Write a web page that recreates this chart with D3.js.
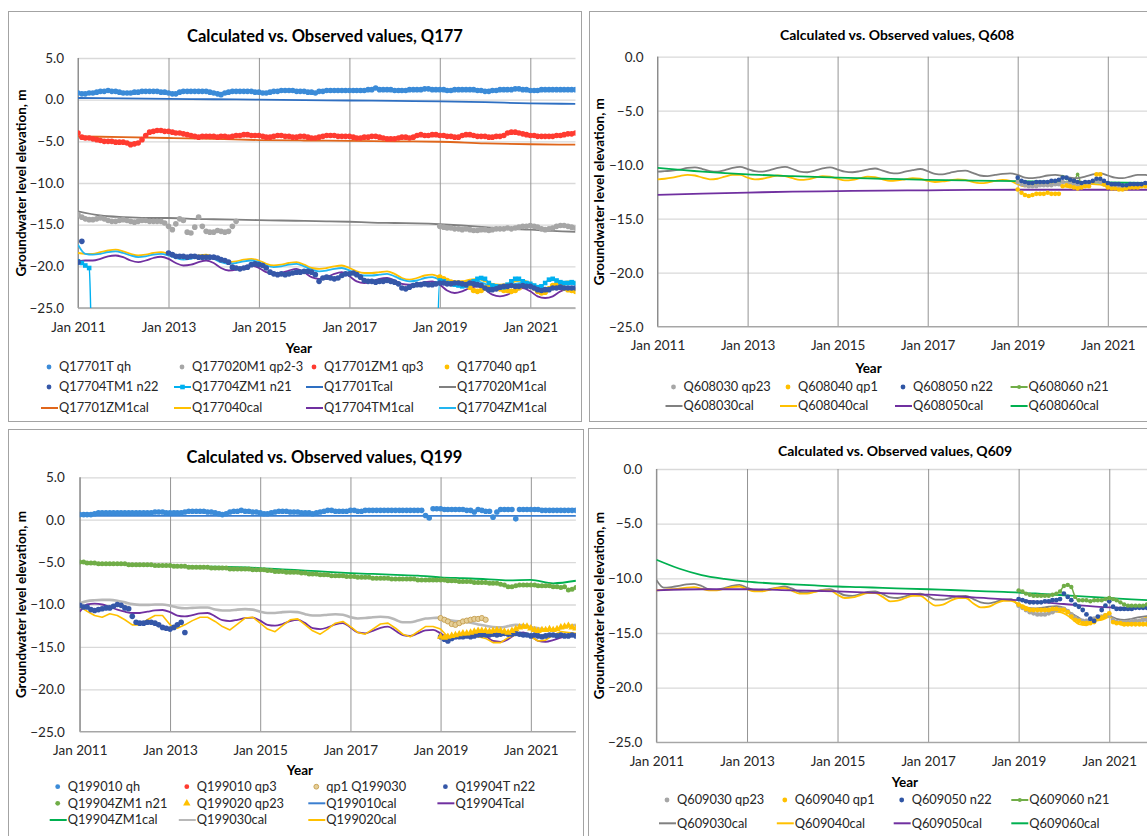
<!DOCTYPE html>
<html>
<head>
<meta charset="utf-8">
<script src="https://cdn.jsdelivr.net/npm/d3@7"></script>
<style>
body { margin: 0; background: #fff; }
</style>
</head>
<body>
<script>
// tick years shared by all four charts
var xTickYears = [2011, 2013, 2015, 2017, 2019, 2021];
var yTicksQ177 = [5, 0, -5, -10, -15, -20, -25];
var yTicksQ608 = [0, -5, -10, -15, -20, -25];

// ---------------- Q177 ----------------
// monthly values from Jan 2011
var q177_qh = [
    0.8, 0.7, 0.7, 0.8, 0.8, 0.9, 1.0, 1.0, 1.1, 1.0, 1.0, 0.9,
    0.8, 0.8, 0.8, 0.9, 0.9, 1.0, 1.0, 1.0, 1.0, 1.0, 0.9, 0.9,
    0.8, 0.7, 0.7, 0.9, 1.0, 1.0, 1.0, 1.0, 1.0, 1.0, 1.0, 0.9,
    0.8, 0.7, 0.6, 0.8, 0.9, 1.0, 1.0, 1.0, 1.0, 1.0, 1.0, 0.9,
    0.9, 0.8, 0.8, 0.9, 1.0, 1.0, 1.1, 1.1, 1.1, 1.1, 1.0, 1.0,
    1.0, 0.9, 0.9, 0.8, 1.0, 1.0, 1.1, 1.1, 1.1, 1.1, 1.1, 1.1,
    1.1, 1.1, 1.1, 1.1, 1.1, 1.2, 1.2, 1.4, 1.2, 1.2, 1.2, 1.2,
    1.1, 1.1, 1.1, 1.1, 1.2, 1.2, 1.2, 1.2, 1.3, 1.3, 1.2, 1.2,
    1.2, 1.2, 1.1, 1.1, 1.2, 1.2, 1.2, 1.2, 1.2, 1.2, 1.1, 1.1,
    1.0, 1.0, 1.1, 1.1, 1.2, 1.2, 1.2, 1.2, 1.3, 1.3, 1.2, 1.2,
    1.1, 1.1, 1.1, 1.2, 1.2, 1.2, 1.2, 1.2, 1.2, 1.2, 1.2, 1.2,
    1.2];
var q177_qp23a = [
    -13.8, -14.1, -14.3, -14.4, -14.4, -14.3, -14.2, -14.3, -14.5, -14.6, -14.6, -14.5,
    -14.4, -14.5, -14.6, -14.7, -14.6, -14.5, -14.5, -14.6, -14.6, -14.6, -14.6, -14.8,
    -15.2, -15.6, -14.9, -14.3, -14.5, -15.9, -16.0, -15.3, -14.1, -15.2, -15.8, -15.9,
    -15.9, -15.7, -15.8, -15.9, -15.8, -15.2, -14.6];
var q177_qp23b = [
    -15.2, -15.3, -15.4, -15.4, -15.5, -15.5, -15.6, -15.5, -15.6, -15.7, -15.7, -15.6,
    -15.6, -15.7, -15.6, -15.5, -15.5, -15.5, -15.4, -15.5, -15.4, -15.3, -15.2, -15.2,
    -15.1, -15.2, -15.3, -15.5, -15.6, -15.5, -15.4, -15.2, -15.1, -15.1, -15.2, -15.3,
    -15.4];
var q177_qp3 = [
    -4.0, -4.5, -4.6, -4.6, -4.7, -4.8, -4.9, -5.0, -5.0, -5.0, -5.1, -5.1,
    -5.1, -5.2, -5.4, -5.3, -5.2, -4.8, -4.3, -3.9, -3.8, -3.7, -3.7, -3.8,
    -3.8, -3.9, -4.0, -4.0, -4.1, -4.2, -4.3, -4.4, -4.5, -4.4, -4.4, -4.4,
    -4.4, -4.5, -4.4, -4.4, -4.5, -4.4, -4.3, -4.3, -4.2, -4.2, -4.3, -4.3,
    -4.3, -4.4, -4.5, -4.5, -4.4, -4.3, -4.3, -4.4, -4.4, -4.5, -4.5, -4.4,
    -4.4, -4.5, -4.6, -4.6, -4.5, -4.4, -4.3, -4.3, -4.3, -4.4, -4.4, -4.4,
    -4.4, -4.5, -4.6, -4.6, -4.5, -4.5, -4.4, -4.4, -4.5, -4.6, -4.7, -4.7,
    -4.7, -4.6, -4.5, -4.5, -4.6, -4.5, -4.3, -4.2, -4.3, -4.3, -4.2, -4.2,
    -4.3, -4.3, -4.4, -4.4, -4.5, -4.5, -4.3, -4.2, -4.2, -4.3, -4.4, -4.4,
    -4.4, -4.5, -4.5, -4.4, -4.4, -4.3, -4.0, -3.9, -3.9, -4.0, -4.1, -4.2,
    -4.3, -4.3, -4.4, -4.4, -4.4, -4.4, -4.4, -4.3, -4.3, -4.2, -4.1, -4.1,
    -4.0];
var q177_qp1 = [
    -21.3, -21.5, -21.7, -21.9, -22.0, -22.0, -22.0, -22.1, -22.5, -22.9, -23.0, -22.9,
    -22.6, -22.4, -22.4, -22.5, -22.7, -22.9, -22.9, -23.0, -22.9, -22.6, -22.3, -22.2,
    -22.3, -22.6, -23.0, -23.2, -23.1, -22.7, -22.3, -22.2, -22.3, -22.6, -22.8, -22.9,
    -23.0];
var q177_n22a = [-19.5, -17.0];
var q177_n22b = [
    -18.4, -18.6, -18.8, -18.8, -18.8, -18.9, -18.8, -18.8, -18.9, -18.9, -18.9, -18.9,
    -18.9, -19.0, -19.2, -19.3, -19.5, -20.1, -20.2, -20.3, -20.2, -20.1, -19.8, -19.7,
    -19.8, -19.9, -20.2, -20.7, -20.9, -21.0, -20.9, -21.0, -20.9, -20.8, -20.7, -20.7,
    -20.6, -20.6, -20.7, -21.0, -21.8, -21.4, -21.3, -21.4, -21.5, -21.4, -21.1, -20.9,
    -20.9, -20.8, -21.0, -21.3, -21.7, -21.8, -21.8, -21.9, -21.8, -21.8, -21.7, -21.8,
    -21.9, -22.1, -22.6, -22.7, -22.5, -22.3, -22.2, -22.2, -22.1, -22.2, -22.2, -22.1,
    -22.0, -22.0, -22.1, -22.1, -22.0, -22.0, -22.1, -22.2, -22.0, -22.1, -22.2, -22.3,
    -22.6, -22.8, -22.8, -22.7, -22.5, -22.4, -22.4, -22.3, -22.4, -22.4, -22.3, -22.4,
    -22.4, -22.6, -22.8, -22.9, -22.8, -22.8, -22.6, -22.6, -22.5, -22.6, -22.6, -22.6,
    -22.6];
// n21: first months of 2011, then an off-scale reading, resumes end of 2018
var q177_n21a = [-19.4, -19.6, -19.9, -20.2, -40];
var q177_n21b = [
    -40,
    -21.7, -21.8, -22.0, -22.1, -22.2, -22.3, -22.4, -22.3, -22.0, -21.8, -21.5, -21.4,
    -21.5, -22.0, -22.3, -22.4, -22.5, -22.5, -22.2, -21.8, -21.5, -21.5, -21.8, -22.0,
    -22.1, -22.3, -22.5, -22.4, -22.0, -21.6, -21.5, -21.7, -21.9, -22.0, -22.0, -21.9,
    -22.0];
// calculated, yearly / half-yearly / every two months
var q177_tcal = [0.2, 0.15, 0.1, 0.05, 0.0, -0.05, -0.1, -0.15, -0.2, -0.3, -0.45, -0.5];
var q177_23cal = [-13.4, -13.9, -14.1, -14.2, -14.2, -14.3, -14.35, -14.4, -14.45, -14.5, -14.55, -14.6,
    -14.65, -14.75, -14.8, -14.85, -14.95, -15.1, -15.3, -15.5, -15.6, -15.75, -15.85];
var q177_zcal = [-4.4, -4.5, -4.6, -4.7, -4.85, -4.9, -4.95, -5.0, -5.05, -5.25, -5.35, -5.4];
var q177_40cal = [
    -18.4, -18.5, -18.5, -18.3, -18.1, -18.0,
    -18.2, -18.5, -18.7, -18.6, -18.4, -18.3,
    -18.5, -18.8, -19.0, -18.9, -18.7, -18.6,
    -18.9, -19.3, -19.5, -19.4, -19.2, -19.1,
    -19.3, -19.7, -19.9, -19.8, -19.6, -19.5,
    -19.8, -20.2, -20.3, -20.2, -20.0, -19.9,
    -20.2, -20.6, -20.8, -20.8, -20.7, -20.6,
    -20.9, -21.4, -21.6, -21.4, -21.1, -21.0,
    -21.3, -21.7, -21.8, -21.8, -21.6, -21.5,
    -21.8, -22.1, -22.2, -22.1, -21.8, -21.7,
    -22.0, -22.4, -22.6, -22.4, -22.0, -21.8,
    -21.9];
var q177_tm1cal = [
    -19.4, -19.3, -19.3, -19.1, -18.8, -18.7,
    -18.9, -19.3, -19.5, -19.3, -19.0, -18.85,
    -19.1, -19.6, -19.9, -19.8, -19.5, -19.3,
    -19.6, -20.2, -20.5, -20.4, -20.1, -19.9,
    -20.2, -20.7, -20.9, -20.8, -20.5, -20.3,
    -20.7, -21.3, -21.5, -21.3, -20.9, -20.7,
    -21.2, -21.8, -22.0, -21.8, -21.5, -21.4,
    -21.7, -22.1, -22.2, -22.1, -21.9, -21.8,
    -22.2, -22.9, -23.2, -23.0, -22.6, -22.4,
    -22.8, -23.4, -23.6, -23.4, -22.9, -22.6,
    -23.0, -23.6, -23.8, -23.6, -23.0, -22.7,
    -22.6];
var q177_zm1cal = [
    -17.4, -18.5, -18.6, -18.5, -18.3, -18.2,
    -18.4, -18.7, -18.9, -18.8, -18.6, -18.5,
    -18.7, -19.0, -19.2, -19.1, -18.9, -18.8,
    -19.1, -19.5, -19.7, -19.6, -19.4, -19.3,
    -19.5, -19.9, -20.1, -20.0, -19.8, -19.7,
    -20.0, -20.4, -20.6, -20.5, -20.3, -20.2,
    -20.5, -20.9, -21.1, -21.1, -21.0, -20.9,
    -21.2, -21.6, -21.8, -21.7, -21.4, -21.3,
    -21.6, -22.0, -22.2, -22.1, -21.9, -21.8,
    -22.1, -22.4, -22.5, -22.4, -22.1, -22.0,
    -22.3, -22.6, -22.8, -22.6, -22.3, -22.1,
    -22.2];

// ---------------- Q608 ----------------
var q608_qp23 = [
    -11.6, -11.8, -11.9, -12.0, -12.0, -12.0, -11.9, -11.9, -11.9, -11.9, -11.8, -11.8,
    -11.6, -11.7, -11.7, -11.8, -11.8, -11.9, -11.9, -11.8, -11.6, -11.5, -11.6, -11.8,
    -11.9, -12.0, -12.0, -12.0, -12.0, -12.0, -11.9, -11.9, -11.9, -11.9, -11.8, -11.8,
    -11.8];
var q608_qp1 = [
    -12.3, -12.6, -12.8, -12.9, -12.8, -12.7, -12.7, -12.7, -12.6, -12.7, -12.7, -12.7,
    -12.0, -11.9, -12.0, -12.1, -12.2, -12.1, -12.0, -12.0, -11.6, -10.9, -10.9, -11.8,
    -12.1, -12.2, -12.2, -12.3, -12.3, -12.2, -12.1, -12.1, -12.1, -12.0, -12.0, -12.0,
    -12.0];
var q608_n22 = [
    -11.2, -11.5, -11.6, -11.7, -11.7, -11.6, -11.6, -11.6, -11.6, -11.5, -11.5, -11.4,
    -11.2, -11.2, -11.4, -11.5, -11.6, -11.7, -11.6, -11.6, -11.5, -11.3, -11.3, -11.5,
    -11.7, -11.8, -11.8, -11.8, -11.9, -11.9, -11.8, -11.8, -11.8, -11.8, -11.7, -11.7,
    -11.7];
var q608_n21 = [
    -11.3, -11.6, -11.7, -11.8, -11.8, -11.7, -11.7, -11.7, -11.7, -11.6, -11.6, -11.5,
    -11.1, -11.3, -11.5, -11.6, -10.9, -11.8, -11.7, -11.7, -11.6, -11.4, -11.4, -11.6,
    -11.8, -11.9, -11.9, -11.9, -12.0, -12.0, -11.9, -11.9, -11.9, -11.9, -11.8, -11.8,
    -11.8];
var q608_30cal = [
    -10.65, -10.6, -10.55, -10.45, -10.3, -10.25,
    -10.4, -10.6, -10.65, -10.5, -10.3, -10.2,
    -10.4, -10.6, -10.65, -10.5, -10.3, -10.2,
    -10.4, -10.65, -10.7, -10.55, -10.35, -10.25,
    -10.45, -10.65, -10.7, -10.6, -10.45, -10.35,
    -10.55, -10.75, -10.8, -10.65, -10.5, -10.4,
    -10.6, -10.85, -10.9, -10.75, -10.6, -10.55,
    -10.75, -11.0, -11.05, -10.95, -10.85, -10.8,
    -10.95, -11.2, -11.25, -11.15, -11.0, -10.95,
    -11.05, -11.2, -11.25, -11.1, -10.9, -10.8,
    -11.0, -11.2, -11.25, -11.1, -10.95, -10.95,
    -11.05];
var q608_40cal = [
    -11.35, -11.3, -11.2, -11.05, -10.95, -11.0,
    -11.2, -11.35, -11.3, -11.1, -10.95, -10.95,
    -11.2, -11.35, -11.3, -11.15, -11.0, -11.05,
    -11.25, -11.4, -11.35, -11.2, -11.05, -11.1,
    -11.3, -11.45, -11.4, -11.25, -11.1, -11.15,
    -11.35, -11.5, -11.45, -11.35, -11.25, -11.3,
    -11.5, -11.6, -11.55, -11.45, -11.35, -11.4,
    -11.6, -11.7, -11.65, -11.5, -11.4, -11.5,
    -11.8, -12.0, -11.95, -11.8, -11.7, -11.75,
    -11.95, -12.1, -12.05, -11.9, -11.8, -11.85,
    -12.05, -12.2, -12.15, -12.0, -11.9, -11.95,
    -12.1];
var q608_50cal = [-12.8, -12.68, -12.58, -12.5, -12.45, -12.4, -12.37, -12.34, -12.32, -12.32, -12.32, -12.32];
var q608_60cal = [-10.3, -10.65, -10.9, -11.05, -11.2, -11.3, -11.4, -11.47, -11.53, -11.6, -11.65, -11.7];

// ---------------- Q199 ----------------
var q199_qh = [
    0.6, 0.6, 0.6, 0.6, 0.7, 0.8, 0.8, 0.8, 0.8, 0.8, 0.8, 0.8,
    0.8, 0.8, 0.8, 0.8, 0.8, 0.8, 0.8, 0.8, 0.9, 0.9, 0.9, 0.8,
    0.8, 0.8, 0.8, 0.8, 0.9, 1.0, 1.0, 1.0, 1.0, 1.0, 0.9, 0.9,
    0.8, 0.7, 0.6, 0.7, 0.9, 1.0, 1.0, 1.1, 1.0, 1.0, 0.9, 0.9,
    0.8, 0.7, 0.7, 0.8, 0.9, 1.0, 1.0, 1.0, 0.9, 0.9, 0.9, 0.8,
    0.8, 0.8, 0.7, 0.8, 0.9, 1.0, 1.1, 1.1, 1.0, 1.0, 1.0, 1.0,
    1.1, 1.1, 1.0, 1.0, 1.1, 1.1, 1.1, 1.1, 1.1, 1.1, 1.1, 1.1,
    1.1, 1.1, 1.1, 1.1, 1.1, 1.1, 1.1, 1.1, 0.5, 0.2, 1.3, 1.3,
    1.3, 1.2, 1.2, 1.2, 1.2, 1.2, 1.2, 1.1, 1.1, 0.9, 1.2, 1.1,
    1.0, 1.0, 0.3, 0.9, 1.2, 1.2, 1.2, 1.2, 0.1, 1.2, 1.2, 1.2,
    1.2, 1.2, 1.2, 1.1, 1.1, 1.1, 1.1, 1.1, 1.1, 1.1, 1.1, 1.1,
    1.1];
var q199_qp3 = [];
var q199_qp1 = [-11.6, -11.8, -12.0, -12.3, -12.4, -12.2, -12.0, -11.9, -11.8, -11.7, -11.7, -11.6, -11.8];
var q199_n22a = [
    -10.1, -10.3, -10.3, -10.6, -10.7, -10.6, -10.5, -10.4, -10.4, -10.2, -10.0, -10.1,
    -10.4, -10.5, -11.4, -12.1, -12.2, -12.2, -12.1, -12.1, -12.2, -12.4, -12.7, -12.8,
    -12.9, -12.7, -12.4, -12.1, -13.3];
var q199_n22b = [
    -13.8, -14.1, -14.3, -14.0, -13.8, -13.8, -13.8, -13.7, -13.8, -13.7, -13.6, -13.6,
    -13.6, -13.6, -13.5, -13.6, -13.5, -13.4, -13.5, -13.5, -13.4, -13.5, -13.6, -13.6,
    -13.7, -13.6, -13.7, -13.8, -13.7, -13.6, -13.6, -13.7, -13.6, -13.7, -13.7, -13.6,
    -13.7];
var q199_n21 = [
    -5.0, -5.0, -5.1, -5.1, -5.1, -5.2, -5.2, -5.2, -5.2, -5.2, -5.2, -5.2,
    -5.2, -5.3, -5.3, -5.3, -5.3, -5.3, -5.3, -5.3, -5.4, -5.4, -5.4, -5.4,
    -5.4, -5.5, -5.5, -5.5, -5.5, -5.6, -5.6, -5.6, -5.6, -5.6, -5.6, -5.7,
    -5.7, -5.7, -5.7, -5.7, -5.8, -5.8, -5.8, -5.8, -5.8, -5.8, -5.9, -5.9,
    -5.9, -5.9, -6.0, -6.0, -6.1, -6.1, -6.1, -6.2, -6.2, -6.2, -6.2, -6.3,
    -6.3, -6.4, -6.4, -6.4, -6.5, -6.5, -6.5, -6.6, -6.6, -6.6, -6.6, -6.7,
    -6.7, -6.7, -6.8, -6.8, -6.8, -6.8, -6.9, -6.9, -6.9, -6.9, -6.9, -7.0,
    -7.0, -7.0, -7.0, -7.0, -7.0, -7.0, -7.1, -7.1, -7.1, -7.1, -7.1, -7.1,
    -7.1, -7.1, -7.2, -7.2, -7.2, -7.3, -7.3, -7.3, -7.3, -7.4, -7.4, -7.4,
    -7.4, -7.5, -7.5, -7.5, -7.6, -7.7, -7.9, -7.9, -7.8, -7.7, -7.7, -7.7,
    -7.7, -7.7, -7.8, -7.8, -7.8, -7.8, -7.9, -7.9, -8.0, -7.9, -8.3, -8.2,
    -8.0];
var q199_qp23 = [
    -13.8, -13.9, -13.8, -13.7, -13.6, -13.5, -13.4, -13.4, -13.3, -13.2, -13.1, -13.1,
    -13.1, -13.2, -13.1, -13.0, -13.1, -13.2, -13.3, -13.1, -12.9, -12.7, -12.6, -12.6,
    -12.8, -13.0, -13.1, -13.0, -13.0, -12.9, -13.0, -12.9, -12.7, -12.6, -12.5, -12.7,
    -12.8];
var q199_10cal = [0.45, 0.45, 0.45, 0.45, 0.45, 0.45, 0.45, 0.45, 0.45, 0.45, 0.45, 0.45];
var q199_tcal = [
    -10.85, -10.0, -9.9, -10.0, -10.3, -10.6,
    -10.85, -11.0, -11.0, -10.85, -10.7, -10.65,
    -10.9, -11.3, -11.4, -11.25, -11.05, -11.0,
    -11.4, -11.85, -11.95, -11.8, -11.6, -11.55,
    -11.9, -12.4, -12.5, -12.3, -11.95, -11.8,
    -12.2, -12.8, -12.9, -12.7, -12.35, -12.2,
    -12.7, -13.3, -13.4, -13.1, -12.75, -12.6,
    -13.1, -13.6, -13.7, -13.4, -13.05, -13.0,
    -13.4, -13.9, -14.0, -13.8, -13.45, -13.3,
    -13.7, -14.3, -14.4, -14.1, -13.5, -13.3,
    -13.7, -14.3, -14.4, -14.2, -13.9, -13.7,
    -13.6];
var q199_zm1cal = [-5.0, -5.15, -5.25, -5.35, -5.4, -5.5, -5.55, -5.6, -5.7, -5.85, -6.0, -6.15,
    -6.3, -6.4, -6.5, -6.6, -6.8, -6.9, -7.0, -7.15, -7.1, -7.5, -7.2];
var q199_30cal = [
    -9.85, -9.6, -9.5, -9.45, -9.45, -9.55,
    -9.75, -9.95, -10.05, -10.05, -10.0, -10.0,
    -10.15, -10.35, -10.45, -10.4, -10.35, -10.35,
    -10.6, -10.7, -10.7, -10.6, -10.55, -10.6,
    -10.85, -11.0, -11.0, -10.9, -10.85, -10.9,
    -11.15, -11.3, -11.3, -11.2, -11.15, -11.2,
    -11.5, -11.65, -11.6, -11.5, -11.45, -11.5,
    -11.8, -12.1, -12.1, -11.9, -11.65, -11.6,
    -11.55, -11.8, -11.95, -12.0, -12.15, -12.35,
    -12.5, -12.65, -12.7, -12.55, -12.4, -12.45,
    -12.65, -12.8, -12.95, -13.0, -12.8, -12.55,
    -12.4];
var q199_20cal = [
    -10.25, -10.8, -11.3, -11.5, -11.1, -11.3,
    -11.8, -12.4, -12.4, -11.8, -11.3, -11.3,
    -12.4, -12.8, -12.4, -11.9, -11.5, -11.5,
    -12.0, -12.6, -13.0, -12.3, -11.6, -11.5,
    -12.2, -12.9, -13.2, -12.5, -11.8, -11.7,
    -12.4, -13.1, -13.5, -12.9, -12.2, -12.0,
    -12.6, -13.3, -13.5, -12.9, -12.3, -12.2,
    -12.8, -13.5, -13.8, -13.2, -12.6, -12.6,
    -12.9, -13.8, -13.7, -13.6, -13.7, -13.8,
    -14.0, -14.5, -14.5, -13.9, -13.6, -13.5,
    -13.8, -14.3, -14.2, -13.6, -13.2, -13.3,
    -13.4];

// ---------------- Q609 ----------------
var q609_qp23 = [
    -12.5, -12.7, -12.9, -13.1, -13.2, -13.3, -13.3, -13.3, -13.2, -13.1, -12.9, -12.8,
    -12.8, -13.0, -13.3, -13.6, -13.8, -13.9, -13.9, -13.8, -13.7, -13.6, -13.5, -13.4,
    -13.4, -13.8, -14.0, -14.0, -14.0, -14.0, -13.9, -13.9, -13.9, -13.8, -13.8, -13.8,
    -13.8];
var q609_qp1 = [
    -12.4, -12.6, -12.8, -12.9, -12.9, -12.9, -12.9, -12.9, -12.9, -12.8, -12.8, -12.9,
    -12.9, -13.1, -13.5, -13.8, -13.9, -14.1, -14.1, -14.1, -14.0, -13.7, -13.6, -13.4,
    -13.2, -14.0, -14.1, -14.1, -14.2, -14.2, -14.2, -14.2, -14.2, -14.2, -14.2, -14.2,
    -14.2];
var q609_n22 = [
    -11.9, -12.0, -12.1, -12.2, -12.2, -12.2, -12.2, -12.1, -12.1, -12.0, -12.0, -11.9,
    -11.4, -11.7, -12.0, -12.4, -12.6, -12.9, -13.3, -13.7, -13.9, -13.5, -12.9, -12.5,
    -12.1, -12.6, -12.8, -12.8, -12.8, -12.8, -12.8, -12.7, -12.7, -12.7, -12.7, -12.7,
    -12.7];
var q609_n21 = [
    -11.1, -11.2, -11.4, -11.5, -11.6, -11.6, -11.6, -11.6, -11.6, -11.5, -11.4, -11.2,
    -10.7, -10.6, -10.8, -11.7, -12.0, -12.0, -12.0, -12.1, -12.0, -12.0, -12.0, -11.9,
    -11.8, -11.9, -12.0, -12.2, -12.4, -12.5, -12.5, -12.5, -12.5, -12.5, -12.4, -12.4,
    -12.4];
var q609_30cal = [
    -10.15, -10.85, -10.8, -10.7, -10.55, -10.5,
    -10.7, -11.0, -11.05, -10.9, -10.7, -10.6,
    -10.85, -11.1, -11.15, -11.0, -10.85, -10.75,
    -10.95, -11.25, -11.3, -11.2, -11.05, -11.0,
    -11.25, -11.55, -11.6, -11.45, -11.25, -11.2,
    -11.45, -11.75, -11.8, -11.65, -11.45, -11.4,
    -11.65, -11.95, -11.95, -11.8, -11.65, -11.6,
    -11.9, -12.2, -12.3, -12.15, -11.95, -11.9,
    -12.45, -12.65, -12.75, -12.7, -12.6, -12.55,
    -12.7, -13.2, -13.6, -14.0, -13.9, -13.7,
    -13.45, -13.7, -13.8, -13.7, -13.55, -13.45,
    -13.4];
var q609_40cal = [
    -11.1, -11.05, -11.0, -10.95, -10.85, -10.8,
    -10.95, -11.1, -11.1, -10.95, -10.8, -10.75,
    -11.0, -11.2, -11.2, -11.05, -10.9, -10.9,
    -11.15, -11.4, -11.4, -11.25, -11.1, -11.1,
    -11.5, -11.8, -11.75, -11.55, -11.35, -11.35,
    -11.7, -12.1, -12.05, -11.8, -11.6, -11.6,
    -12.1, -12.5, -12.4, -12.05, -11.8, -11.8,
    -12.3, -12.65, -12.6, -12.3, -12.05, -12.05,
    -12.35, -12.6, -12.85, -12.9, -13.0, -13.05,
    -13.2, -13.65, -14.2, -14.3, -13.9, -13.8,
    -13.55, -14.0, -14.3, -14.1, -13.8, -13.6,
    -13.5];
var q609_50cal = [-11.1, -11.0, -11.0, -11.1, -11.2, -11.35, -11.5, -11.75, -12.0, -12.35, -12.65, -12.7];
var q609_60cal = [-8.3, -9.1, -9.7, -10.05, -10.3, -10.45, -10.55, -10.65, -10.75, -10.8, -10.88, -10.94,
    -11.0, -11.07, -11.14, -11.22, -11.3, -11.42, -11.55, -11.68, -11.8, -11.92, -12.03];

// ---------------- drawing ----------------
var FONT = "Lato, 'Open Sans', sans-serif";
var parseMonth = d3.timeParse("%Y-%m");

var svg = d3.select("body").append("svg")
    .attr("width", 1147)
    .attr("height", 836)
    .style("display", "block");
var defs = svg.append("defs");

// [start month, step in months, values]
var toSegments = function (parts) {
    return parts.map(function (p) {
        var start = parseMonth(p[0]);
        return p[2].map(function (v, i) {
            return {date: d3.timeMonth.offset(start, i * p[1]), v: v};
        });
    });
};

var drawMarker = function (g, kind, cx, cy, s) {
    if (kind === "sq") {
        g.append("rect")
            .attr("x", cx - 2.3).attr("y", cy - 2.3)
            .attr("width", 4.6).attr("height", 4.6)
            .style("fill", s.color);
    } else if (kind === "tri") {
        g.append("path")
            .attr("d", d3.symbol(d3.symbolTriangle, 24)())
            .attr("transform", "translate(" + cx + "," + cy + ")")
            .style("fill", s.color);
    } else if (kind === "ring") {
        g.append("circle")
            .attr("cx", cx).attr("cy", cy).attr("r", s.r || 2.6)
            .style("fill", "#e6cf98")
            .style("stroke", s.color)
            .style("stroke-width", 1);
    } else {
        g.append("circle")
            .attr("cx", cx).attr("cy", cy).attr("r", s.r || 2.8)
            .style("fill", s.color);
    }
};

var drawPanel = function (p) {
    var g = svg.append("g");

    // chart frame
    g.append("rect")
        .attr("x", p.frame[0] + 0.5).attr("y", p.frame[1] + 0.5)
        .attr("width", p.frame[2]).attr("height", p.frame[3])
        .style("fill", "#fff")
        .style("stroke", "#a3a3a3");

    var x = d3.scaleTime()
        .domain([new Date(2011, 0, 1), new Date(2022, 0, 1)])
        .range([p.x0, p.x1]);
    var y = d3.scaleLinear()
        .domain([-25, p.yTicks[0]])
        .range([p.yBot, p.yTop]);

    // horizontal grid + y labels
    var ya = g.append("g")
        .attr("transform", "translate(" + p.x0 + ",0)")
        .call(d3.axisLeft(y).tickValues(p.yTicks).tickSize(-(p.x1 - p.x0))
            .tickPadding(p.yPad).tickFormat(d3.format(".1f")));
    ya.select(".domain").remove();
    ya.selectAll(".tick line").style("stroke", "#d9d9d9").style("stroke-width", 1.3);
    ya.selectAll(".tick text")
        .style("font-family", FONT).style("font-size", "13.5px").style("fill", "#262626");

    // vertical grid + x labels
    var xa = g.append("g")
        .attr("transform", "translate(0," + p.yBot + ")")
        .call(d3.axisBottom(x)
            .tickValues(xTickYears.map(function (yr) { return new Date(yr, 0, 1); }))
            .tickSize(-(p.yBot - p.yTop)).tickPadding(p.xPad)
            .tickFormat(d3.timeFormat("%b %Y")));
    xa.select(".domain").remove();
    xa.selectAll(".tick line").style("stroke", "#949494").style("stroke-width", 1);
    xa.selectAll(".tick text")
        .style("font-family", FONT).style("font-size", "13.5px").style("fill", "#262626");

    // axis lines
    g.append("line")
        .attr("x1", p.x0).attr("y1", p.yTop).attr("x2", p.x0).attr("y2", p.yBot)
        .style("stroke", "#8c8c8c");
    g.append("line")
        .attr("x1", p.x0).attr("y1", p.yBot).attr("x2", p.x1).attr("y2", p.yBot)
        .style("stroke", "#a6a6a6").style("stroke-width", 1.3);

    defs.append("clipPath").attr("id", "clip_" + p.id)
        .append("rect")
        .attr("x", p.x0).attr("y", p.yTop)
        .attr("width", p.x1 - p.x0).attr("height", p.yBot - p.yTop);
    var plot = g.append("g").attr("clip-path", "url(#clip_" + p.id + ")");

    // lines first, then the observed markers
    p.series.forEach(function (s) {
        if (s.kind === "dot" || s.kind === "tri" || s.kind === "ring") return;
        var line = d3.line()
            .defined(function (d) { return d.v !== null; })
            .x(function (d) { return x(d.date); })
            .y(function (d) { return y(d.v); })
            .curve(s.curve === "linear" ? d3.curveLinear : d3.curveMonotoneX);
        toSegments(s.parts).forEach(function (seg) {
            plot.append("path")
                .attr("d", line(seg))
                .style("fill", "none")
                .style("stroke", s.color)
                .style("stroke-width", s.width || 1.8)
                .style("stroke-linejoin", "round");
        });
    });

    p.markerOrder.forEach(function (idx) {
        var s = p.series[idx];
        var mk = s.kind === "square" ? "sq" : (s.kind === "linedot" ? "dot" : s.kind);
        toSegments(s.parts).forEach(function (seg) {
            seg.forEach(function (d) {
                if (d.v === null) return;
                drawMarker(plot, mk, x(d.date), y(d.v), s);
            });
        });
    });

    // titles
    g.append("text")
        .attr("x", p.title[0]).attr("y", p.title[1])
        .attr("text-anchor", "middle")
        .style("font-family", FONT).style("font-weight", "bold")
        .style("font-size", p.titleSize + "px").style("fill", "#000")
        .text(p.titleText);

    g.append("text")
        .attr("transform", "translate(" + p.yTitle[0] + "," + p.yTitle[1] + ") rotate(-90)")
        .attr("text-anchor", "middle")
        .attr("dy", "0.35em")
        .style("font-family", FONT).style("font-weight", "bold")
        .style("font-size", "13.5px").style("fill", "#000")
        .text("Groundwater level elevation, m");

    g.append("text")
        .attr("x", p.xTitle[0]).attr("y", p.xTitle[1])
        .attr("text-anchor", "middle")
        .attr("dy", "0.35em")
        .style("font-family", FONT).style("font-weight", "bold")
        .style("font-size", "13.5px").style("fill", "#000")
        .text("Year");

    // legend, four columns
    p.series.forEach(function (s, i) {
        var tx = p.legendX[i % 4];
        var ty = p.legendY[Math.floor(i / 4)];
        var lg = g.append("g");
        if (s.kind === "line" || s.kind === "linedot" || s.kind === "square") {
            lg.append("line")
                .attr("x1", tx - 18).attr("y1", ty).attr("x2", tx - 1).attr("y2", ty)
                .style("stroke", s.color).style("stroke-width", 2);
            if (s.kind === "linedot") drawMarker(lg, "dot", tx - 9.5, ty, {color: s.color, r: 2});
            if (s.kind === "square") drawMarker(lg, "sq", tx - 9.5, ty, s);
        } else {
            drawMarker(lg, s.kind, tx - 10, ty, {color: s.color, r: 2.4});
        }
        lg.append("text")
            .attr("x", tx).attr("y", ty).attr("dy", "0.35em")
            .style("font-family", FONT).style("font-size", "12.8px").style("fill", "#262626")
            .text(s.name);
    });
};

var q177 = {
    id: "q177", titleText: "Calculated vs. Observed values, Q177", titleSize: 16.5,
    frame: [8, 11, 573, 410], x0: 78, x1: 575.5, yTop: 58, yBot: 308,
    yTicks: yTicksQ177, yPad: 14, xPad: 14,
    title: [325, 42], yTitle: [21, 183], xTitle: [299, 348],
    legendX: [59, 192, 324, 457], legendY: [367, 387, 408],
    series: [
        {name: "Q17701T qh", kind: "dot", color: "#3b8bd8", parts: [["2011-01", 1, q177_qh]]},
        {name: "Q177020M1 qp2-3", kind: "dot", color: "#a6a6a6", parts: [["2011-01", 1, q177_qp23a], ["2019-01", 1, q177_qp23b]]},
        {name: "Q17701ZM1 qp3", kind: "dot", color: "#ff3b30", parts: [["2011-01", 1, q177_qp3]]},
        {name: "Q177040 qp1", kind: "dot", color: "#ffc000", parts: [["2019-01", 1, q177_qp1]]},
        {name: "Q17704TM1 n22", kind: "dot", color: "#3557a8", parts: [["2011-01", 1, q177_n22a], ["2013-01", 1, q177_n22b]]},
        {name: "Q17704ZM1 n21", kind: "square", color: "#00b0f0", width: 1.5, parts: [["2011-01", 1, q177_n21a], ["2018-12", 1, q177_n21b]]},
        {name: "Q17701Tcal", kind: "line", color: "#2e6fc2", parts: [["2011-01", 12, q177_tcal]]},
        {name: "Q177020M1cal", kind: "line", color: "#808080", parts: [["2011-01", 6, q177_23cal]]},
        {name: "Q17701ZM1cal", kind: "line", color: "#e0661b", parts: [["2011-01", 12, q177_zcal]]},
        {name: "Q177040cal", kind: "line", color: "#ffc000", parts: [["2011-01", 2, q177_40cal]]},
        {name: "Q17704TM1cal", kind: "line", color: "#7030a0", parts: [["2011-01", 2, q177_tm1cal]]},
        {name: "Q17704ZM1cal", kind: "line", color: "#22b5f0", parts: [["2011-01", 2, q177_zm1cal]]}
    ],
    markerOrder: [0, 1, 2, 3, 5, 4]
};

var q608 = {
    id: "q608", titleText: "Calculated vs. Observed values, Q608", titleSize: 14,
    frame: [589, 11, 620, 410], x0: 657.5, x1: 1152.8, yTop: 56.7, yBot: 326.7,
    yTicks: yTicksQ608, yPad: 14, xPad: 14,
    title: [897, 40], yTitle: [599, 191.7], xTitle: [868.6, 368],
    legendX: [683.5, 798, 913, 1028.6], legendY: [387, 406],
    series: [
        {name: "Q608030 qp23", kind: "dot", color: "#a6a6a6", r: 2.3, parts: [["2019-01", 1, q608_qp23]]},
        {name: "Q608040 qp1", kind: "dot", color: "#ffc000", r: 2.3, parts: [["2019-01", 1, q608_qp1]]},
        {name: "Q608050 n22", kind: "dot", color: "#2f55a4", r: 2.3, parts: [["2019-01", 1, q608_n22]]},
        {name: "Q608060 n21", kind: "linedot", color: "#70ad47", r: 1.8, width: 1.5, parts: [["2019-01", 1, q608_n21]]},
        {name: "Q608030cal", kind: "line", color: "#808080", parts: [["2011-01", 2, q608_30cal]]},
        {name: "Q608040cal", kind: "line", color: "#ffc000", parts: [["2011-01", 2, q608_40cal]]},
        {name: "Q608050cal", kind: "line", color: "#7030a0", parts: [["2011-01", 12, q608_50cal]]},
        {name: "Q608060cal", kind: "line", color: "#00b050", parts: [["2011-01", 12, q608_60cal]]}
    ],
    markerOrder: [3, 0, 1, 2]
};

var q199 = {
    id: "q199", titleText: "Calculated vs. Observed values, Q199", titleSize: 16.5,
    frame: [8, 429, 575, 420], x0: 79.8, x1: 575.9, yTop: 477.3, yBot: 731.7,
    yTicks: yTicksQ177, yPad: 15, xPad: 14,
    title: [324.4, 462.5], yTitle: [21, 604.5], xTitle: [300, 770],
    legendX: [67.7, 196.8, 326.3, 455.4], legendY: [786.7, 803.3, 820],
    series: [
        {name: "Q199010 qh", kind: "dot", color: "#3b8bd8", parts: [["2011-01", 1, q199_qh]]},
        {name: "Q199010 qp3", kind: "dot", color: "#ff3b30", parts: [["2011-01", 1, q199_qp3]]},
        {name: "qp1 Q199030", kind: "ring", color: "#c9a458", parts: [["2019-01", 1, q199_qp1]]},
        {name: "Q19904T n22", kind: "dot", color: "#3557a8", parts: [["2011-01", 1, q199_n22a], ["2019-01", 1, q199_n22b]]},
        {name: "Q19904ZM1 n21", kind: "dot", color: "#70ad47", r: 2.5, parts: [["2011-01", 1, q199_n21]]},
        {name: "Q199020 qp23", kind: "tri", color: "#ffc000", parts: [["2019-01", 1, q199_qp23]]},
        {name: "Q199010cal", kind: "line", color: "#3b7fd0", parts: [["2011-01", 12, q199_10cal]]},
        {name: "Q19904Tcal", kind: "line", color: "#7030a0", parts: [["2011-01", 2, q199_tcal]]},
        {name: "Q19904ZM1cal", kind: "line", color: "#00b050", parts: [["2011-01", 6, q199_zm1cal]]},
        {name: "Q199030cal", kind: "line", color: "#b8b8b8", width: 2.6, parts: [["2011-01", 2, q199_30cal]]},
        {name: "Q199020cal", kind: "line", color: "#ffc000", width: 1.6, curve: "linear", parts: [["2011-01", 2, q199_20cal]]}
    ],
    markerOrder: [0, 1, 4, 3, 2, 5]
};

var q609 = {
    id: "q609", titleText: "Calculated vs. Observed values, Q609", titleSize: 14,
    frame: [588, 428, 620, 420], x0: 656.4, x1: 1154.5, yTop: 469, yBot: 742.3,
    yTicks: yTicksQ608, yPad: 14, xPad: 14,
    title: [895, 455.5], yTitle: [599, 605.6], xTitle: [905, 782.7],
    legendX: [677, 794.8, 911.7, 1029.3], legendY: [800, 823.3],
    series: [
        {name: "Q609030 qp23", kind: "dot", color: "#a6a6a6", r: 2.4, parts: [["2019-01", 1, q609_qp23]]},
        {name: "Q609040 qp1", kind: "dot", color: "#ffc000", r: 2.4, parts: [["2019-01", 1, q609_qp1]]},
        {name: "Q609050 n22", kind: "dot", color: "#2f55a4", r: 2.4, parts: [["2019-01", 1, q609_n22]]},
        {name: "Q609060 n21", kind: "linedot", color: "#70ad47", r: 2.2, width: 1.5, parts: [["2019-01", 1, q609_n21]]},
        {name: "Q609030cal", kind: "line", color: "#808080", parts: [["2011-01", 2, q609_30cal]]},
        {name: "Q609040cal", kind: "line", color: "#ffc000", parts: [["2011-01", 2, q609_40cal]]},
        {name: "Q609050cal", kind: "line", color: "#7030a0", parts: [["2011-01", 12, q609_50cal]]},
        {name: "Q609060cal", kind: "line", color: "#00b050", parts: [["2011-01", 6, q609_60cal]]}
    ],
    markerOrder: [0, 1, 2, 3]
};

[q177, q608, q199, q609].forEach(drawPanel);
</script>
</body>
</html>
